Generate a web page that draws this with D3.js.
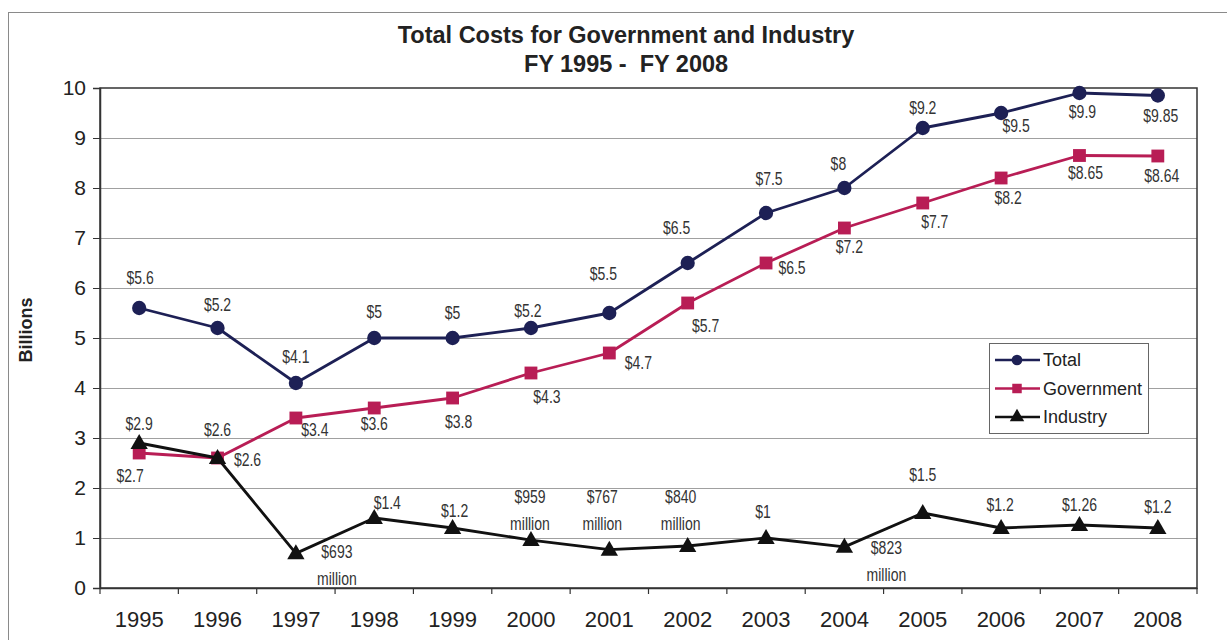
<!DOCTYPE html>
<html>
<head>
<meta charset="utf-8">
<script src="https://cdn.jsdelivr.net/npm/d3@7"></script>
<style>
  html, body { margin: 0; padding: 0; background: #fff; }
  svg { display: block; }
  text { font-family: "Liberation Sans", Arial, sans-serif; fill: #222; }
  .lbl { font-family: "Liberation Sans", Arial, sans-serif; fill: #333; }
</style>
</head>
<body>
<svg id="chart" width="1227" height="640"></svg>
<script>
// Fiscal years on the category axis
const years = ["1995", "1996", "1997", "1998", "1999", "2000", "2001",
               "2002", "2003", "2004", "2005", "2006", "2007", "2008"];

// Costs in billions of dollars
const totalCosts = [5.6, 5.2, 4.1, 5, 5, 5.2, 5.5, 6.5, 7.5, 8, 9.2, 9.5, 9.9, 9.85];
const governmentCosts = [2.7, 2.6, 3.4, 3.6, 3.8, 4.3, 4.7, 5.7, 6.5, 7.2, 7.7, 8.2, 8.65, 8.64];
const industryCosts = [2.9, 2.6, 0.693, 1.4, 1.2, 0.959, 0.767, 0.840, 1, 0.823, 1.5, 1.2, 1.26, 1.2];

const yTicks = [0, 1, 2, 3, 4, 5, 6, 7, 8, 9, 10];

// Point labels: values under one billion are written in millions
function costLabel(v) {
  if (v < 1) return ["$" + Math.round(v * 1000), "million"];
  return ["$" + String(v)];
}

// Label offsets (dx, dy) from each marker, so labels stay clear of the lines
const totalLabelOffset = [[1,-30],[0,-23],[0,-26],[0,-26],[0,-25],[-3,-17],[-6,-39],
                          [-11,-35],[3,-34],[-6,-24],[0,-20],[15,13],[3,19],[3,20]];
const governmentLabelOffset = [[-9,23],[30,2],[19,12],[0,16],[6,24],[16,24],[29,10],
                               [18,23],[26,5],[5,19],[12,19],[7,20],[6,17],[4,20]];
const industryLabelOffset = [[0,-19],[0,-28],[41,-1],[13,-15],[2,-17],[-1,-43],[-7,-53],
                             [-7,-49],[-3,-26],[42,1],[0,-38],[-1,-23],[0,-20],[0,-21]];

const series = [
  { name: "Total", values: totalCosts, color: "#1d2055", marker: "circle", offsets: totalLabelOffset },
  { name: "Government", values: governmentCosts, color: "#b81d55", marker: "square", offsets: governmentLabelOffset },
  { name: "Industry", values: industryCosts, color: "#111111", marker: "triangle", offsets: industryLabelOffset }
];

const svg = d3.select("#chart");
const plot = { left: 100, right: 1197, top: 88, bottom: 588 };

const x = d3.scaleBand().domain(years).range([plot.left, plot.right]).padding(0);
const y = d3.scaleLinear().domain([0, 10]).range([plot.bottom, plot.top]);
const cx = d => x(d) + x.bandwidth() / 2;

// Outer frame of the chart
svg.append("rect")
  .attr("x", 8.5).attr("y", 12.5).attr("width", 1240).attr("height", 660)
  .attr("fill", "none").attr("stroke", "#8a8a8a").attr("stroke-width", 1);

// Title
const title = svg.append("text")
  .attr("text-anchor", "middle")
  .style("font-weight", "bold").style("font-size", "23.5px")
  .style("white-space", "pre");
title.append("tspan").attr("x", 626).attr("y", 43).text("Total Costs for Government and Industry");
title.append("tspan").attr("x", 626).attr("y", 72).text("FY 1995 -  FY 2008");

// Horizontal gridlines
svg.append("g").selectAll("line")
  .data(yTicks.filter(t => t > 0 && t < 10))
  .join("line")
  .attr("x1", plot.left).attr("x2", plot.right)
  .attr("y1", d => y(d) + 0.5).attr("y2", d => y(d) + 0.5)
  .attr("stroke", "#a0a0a0").attr("stroke-width", 1);

// Plot border
svg.append("rect")
  .attr("x", plot.left).attr("y", plot.top)
  .attr("width", plot.right - plot.left).attr("height", plot.bottom - plot.top)
  .attr("fill", "none").attr("stroke", "#333").attr("stroke-width", 1.5);

// Y axis
const yAxis = svg.append("g")
  .attr("transform", `translate(${plot.left},0)`)
  .call(d3.axisLeft(y).tickValues(yTicks).tickSize(7).tickPadding(7).tickFormat(d3.format("d")));
yAxis.select(".domain").attr("stroke", "#333").attr("stroke-width", 1.5);
yAxis.selectAll(".tick line").attr("stroke", "#333");
yAxis.selectAll("text").style("font-size", "21px").style("font-family", "'Liberation Sans', Arial, sans-serif").attr("fill", "#222");

// X axis: labels at category centres, ticks at category boundaries
const xAxis = svg.append("g")
  .attr("transform", `translate(0,${plot.bottom})`)
  .call(d3.axisBottom(x).tickSize(0).tickPadding(23));
xAxis.select(".domain").attr("stroke", "#333").attr("stroke-width", 1.5);
xAxis.selectAll("text").style("font-size", "22px").style("font-family", "'Liberation Sans', Arial, sans-serif").attr("fill", "#222");
const boundaries = years.map(d => x(d)).concat([x.range()[1]]);
svg.append("g").selectAll("line")
  .data(boundaries)
  .join("line")
  .attr("x1", d => d).attr("x2", d => d)
  .attr("y1", plot.bottom).attr("y2", plot.bottom + 6)
  .attr("stroke", "#333").attr("stroke-width", 1.2);

// Y axis title
svg.append("text")
  .attr("transform", "translate(32,330) rotate(-90)")
  .attr("text-anchor", "middle")
  .style("font-weight", "bold").style("font-size", "18px")
  .text("Billions");

// Marker shapes
const symbolType = { circle: d3.symbolCircle, square: d3.symbolSquare, triangle: d3.symbolTriangle };
const symbolSize = { circle: 160, square: 165, triangle: 130 };

const line = d3.line().x(d => cx(d.year)).y(d => y(d.value));

series.forEach(s => {
  const pts = years.map((yr, i) => ({ year: yr, value: s.values[i], off: s.offsets[i] }));
  const g = svg.append("g");
  g.append("path")
    .datum(pts)
    .attr("d", line)
    .attr("fill", "none").attr("stroke", s.color).attr("stroke-width", 2.8)
    .attr("stroke-linejoin", "round");
  g.selectAll("path.mk")
    .data(pts)
    .join("path")
    .attr("class", "mk")
    .attr("d", d3.symbol().type(symbolType[s.marker]).size(symbolSize[s.marker]))
    .attr("transform", d => `translate(${cx(d.year)},${y(d.value) + (s.marker === "triangle" ? 1 : 0)})`)
    .attr("fill", s.color);
});

// Data labels, in a condensed face
series.forEach(s => {
  const pts = years.map((yr, i) => ({ year: yr, value: s.values[i], off: s.offsets[i] }));
  const lg = svg.append("g");
  pts.forEach(d => {
    const lines = costLabel(d.value);
    const px = cx(d.year) + d.off[0];
    const py = y(d.value) + d.off[1];
    lines.forEach((t, k) => {
      const el = lg.append("text")
        .attr("class", "lbl")
        .attr("x", px).attr("y", py + k * 27)
        .attr("text-anchor", "middle")
        .attr("dominant-baseline", "central")
        .style("font-size", "17.5px")
        .text(t);
      const w = el.node().getComputedTextLength();
      el.attr("textLength", w * 0.8).attr("lengthAdjust", "spacingAndGlyphs");
    });
  });
});

// Legend
const legend = svg.append("g");
legend.append("rect")
  .attr("x", 989.5).attr("y", 343.5).attr("width", 159).attr("height", 90)
  .attr("fill", "#fff").attr("stroke", "#666").attr("stroke-width", 1);
series.forEach((s, i) => {
  const ly = 360 + i * 28.5;
  legend.append("line")
    .attr("x1", 995).attr("x2", 1040).attr("y1", ly).attr("y2", ly)
    .attr("stroke", s.color).attr("stroke-width", 2.4);
  legend.append("path")
    .attr("d", d3.symbol().type(symbolType[s.marker]).size(90))
    .attr("transform", `translate(1017,${ly})`)
    .attr("fill", s.color);
  legend.append("text")
    .attr("x", 1043).attr("y", ly)
    .attr("dominant-baseline", "central")
    .style("font-size", "18px")
    .text(s.name);
});
</script>
</body>
</html>
